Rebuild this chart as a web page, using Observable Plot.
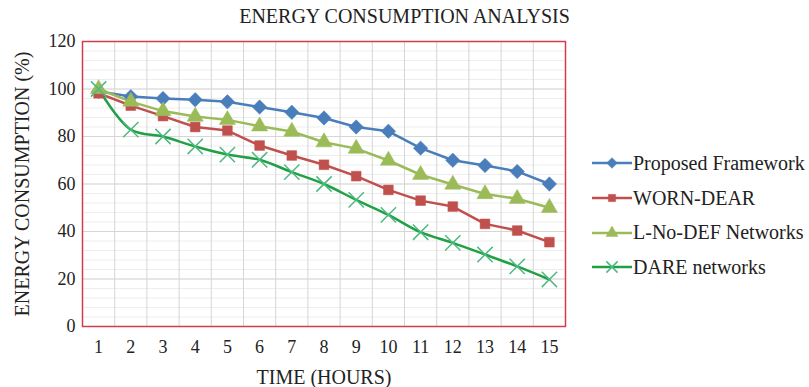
<!DOCTYPE html>
<html><head><meta charset="utf-8">
<script src="https://cdn.jsdelivr.net/npm/d3@7"></script>
<script src="https://cdn.jsdelivr.net/npm/@observablehq/plot@0.6"></script>
<style>
body{margin:0;background:#fff;}
#wrap{position:relative;width:809px;height:387px;font-family:"Liberation Serif","Times New Roman",serif;color:#222;}
#wrap svg text{font-family:"Liberation Serif","Times New Roman",serif;}
#title{position:absolute;left:0;width:809px;top:5px;text-align:center;font-size:20px;letter-spacing:0px;}
#legend{position:absolute;left:592px;top:146px;font-size:20px;}
.item{display:flex;align-items:center;height:34.7px;}
.item svg{margin-right:1px;}
</style></head>
<body><div id="wrap"><div id="title"></div><div id="legend"></div></div>
<script>
const title = "ENERGY CONSUMPTION ANALYSIS";
const xLabel = "TIME (HOURS)";
const yLabel = "ENERGY CONSUMPTION (%)";
const hours = [1,2,3,4,5,6,7,8,9,10,11,12,13,14,15];
const seriesNames = ["Proposed Framework","WORN-DEAR","L-No-DEF Networks","DARE networks"];
const proposed = [99,96.8,96,95.5,94.6,92.4,90.2,87.8,84,82.2,75.1,70,67.8,65.3,60];
const wornDear = [98.2,93,88.6,84,82.5,76.2,72,68.1,63.3,57.5,53,50.5,43.2,40.4,35.5];
const lNoDef = [100,94.7,90.7,88.4,87,84.3,82.1,77.6,74.9,69.9,63.9,59.8,55.8,53.8,50];
const dare = [100,82.9,80,75.8,72.4,70.2,65,60,53.3,47,39.7,35.2,30.3,25.3,19.8];
const yTicks = [0,20,40,60,80,100,120];

const lineColors = ["#4a7ebb","#c0504d","#9bbb59","#21a045"];
const markColors = ["#4a7ebb","#c0504d","#9bbb59","#4fb982"];
const symbols = ["diamond2","square","triangle","times"];
const sizes = [6.5,5.5,6,7];
const curves = ["linear","linear","linear","catmull-rom"];
const values = [proposed, wornDear, lNoDef, dare];

const series = seriesNames.map((name,i)=>hours.map((h,j)=>({hour:h,value:values[i][j],name})));

const marks = [
  Plot.ruleY(d3.range(4,120,4),{stroke:"#ededed",strokeWidth:1}),
  Plot.ruleY(d3.range(20,120,20),{stroke:"#d6d6d6",strokeWidth:1}),
  Plot.ruleX(d3.range(1.5,15,1),{stroke:"#d6d6d6",strokeWidth:1}),
  Plot.frame({stroke:"#d23c4b",strokeWidth:1.5})
];
series.forEach((s,i)=>{
  marks.push(Plot.line(s,{x:"hour",y:"value",stroke:lineColors[i],strokeWidth:2.5,curve:curves[i]}));
});
series.forEach((s,i)=>{
  const isStroke = symbols[i]==="times";
  marks.push(Plot.dot(s,{x:"hour",y:"value",symbol:()=>symbols[i],r:sizes[i],
    fill:isStroke?"none":markColors[i],stroke:markColors[i],strokeWidth:isStroke?1.5:0.5}));
});

const chart = Plot.plot({
  width:809,height:387,
  marginLeft:82,marginRight:244,marginTop:41,marginBottom:61,
  style:{fontFamily:"'Liberation Serif', 'Times New Roman', serif",fontSize:"18px",color:"#222",background:"#fff"},
  symbol:{type:"identity"},
  x:{domain:[0.5,15.5],ticks:hours,tickFormat:d=>String(d),tickSize:0,tickPadding:14,label:xLabel,labelArrow:"none",labelAnchor:"center",labelOffset:57},
  y:{domain:[0,120],ticks:yTicks,tickSize:0,tickPadding:7,label:yLabel,labelArrow:"none",labelAnchor:"center",labelOffset:68},
  marks
});
const wrap = document.getElementById("wrap");
wrap.insertBefore(chart, wrap.firstChild);
chart.style.position="absolute";chart.style.left="0";chart.style.top="0";
d3.select(chart).selectAll("[aria-label='x-axis label'] text, [aria-label='y-axis label'] text").style("font-size","20px");
document.getElementById("title").textContent = title;

const legend = d3.select("#legend");
seriesNames.forEach((name,i)=>{
  const it = legend.append("div").attr("class","item");
  const sv = it.append("svg").attr("width",40).attr("height",20);
  sv.append("line").attr("x1",0).attr("x2",40).attr("y1",10).attr("y2",10).attr("stroke",lineColors[i]).attr("stroke-width",2.5);
  const isStroke = symbols[i]==="times";
  const sym = {diamond2:d3.symbolDiamond2,square:d3.symbolSquare,triangle:d3.symbolTriangle,times:d3.symbolTimes}[symbols[i]];
  const area = Math.PI*sizes[i]*sizes[i]*0.55;
  sv.append("path").attr("transform","translate(20,10)").attr("d",d3.symbol(sym,area)())
    .attr("fill",isStroke?"none":markColors[i]).attr("stroke",markColors[i]).attr("stroke-width",isStroke?1.5:0.5);
  it.append("span").text(name);
});
</script></body></html>
